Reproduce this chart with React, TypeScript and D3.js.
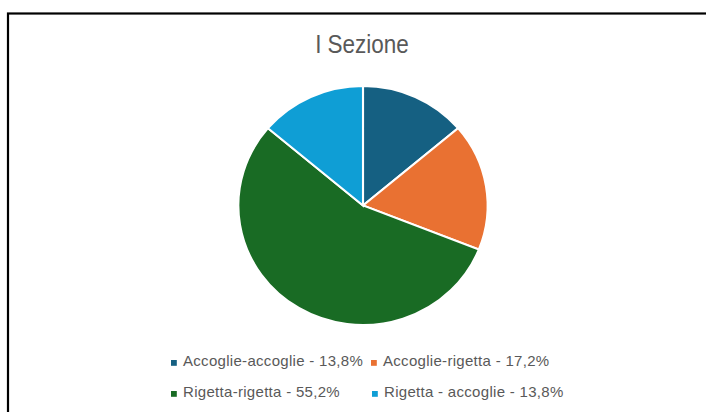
import React from "react";
import * as d3 from "d3";

const categories = ["Accoglie-accoglie", "Accoglie-rigetta", "Rigetta-rigetta", "Rigetta - accoglie"];
const values = [13.8, 17.2, 55.2, 13.8];
const labels = ["13,8%", "17,2%", "55,2%", "13,8%"];
const colors = ["#156082", "#E97132", "#196B24", "#0F9ED5"];
const title = "I Sezione";

const W = 706;
const H = 412;

export default function App() {
  const cx = 363;
  const cy = 205.5;
  const r = 119.5;
  const sx = 1.043;
  const pie = d3.pie<number>().sort(null).value((d) => d)(values);
  const arc = d3.arc<d3.PieArcDatum<number>>().innerRadius(0).outerRadius(r);

  const legendPos = [
    { x: 171, y: 366 },
    { x: 371, y: 366 },
    { x: 171, y: 397 },
    { x: 372, y: 397 },
  ];

  return (
    <svg
      width={W}
      height={H}
      style={{ position: "absolute", left: 0, top: 0, display: "block" }}
    >
      <rect x={0} y={0} width={W} height={H} fill="#ffffff" />
      <rect x={8} y={13.5} width={W + 20} height={H + 20} fill="none" stroke="#000" strokeWidth={2.2} />
      <g transform="translate(362,53) scale(0.9,1)">
        <text
          x={0}
          y={0}
          textAnchor="middle"
          fontFamily="'Liberation Sans', Arial, sans-serif"
          fontSize={25}
          fill="#595959"
        >
          {title}
        </text>
      </g>
      <g transform={`translate(${cx},${cy}) scale(${sx},1)`}>
        {pie.map((p, i) => (
          <path key={i} d={arc(p) || ""} fill={colors[i]} stroke="#ffffff" strokeWidth={2} />
        ))}
      </g>
      {categories.map((c, i) => (
        <g key={c} transform={`translate(${legendPos[i].x},${legendPos[i].y})`}>
          <rect x={0} y={-6} width={5.8} height={5.8} fill={colors[i]} />
          <text
            x={12}
            y={0}
            fontFamily="'Liberation Sans', Arial, sans-serif"
            fontSize={15}
            letterSpacing={0.3}
            fill="#595959"
          >
            {`${c} - ${labels[i]}`}
          </text>
        </g>
      ))}
    </svg>
  );
}
